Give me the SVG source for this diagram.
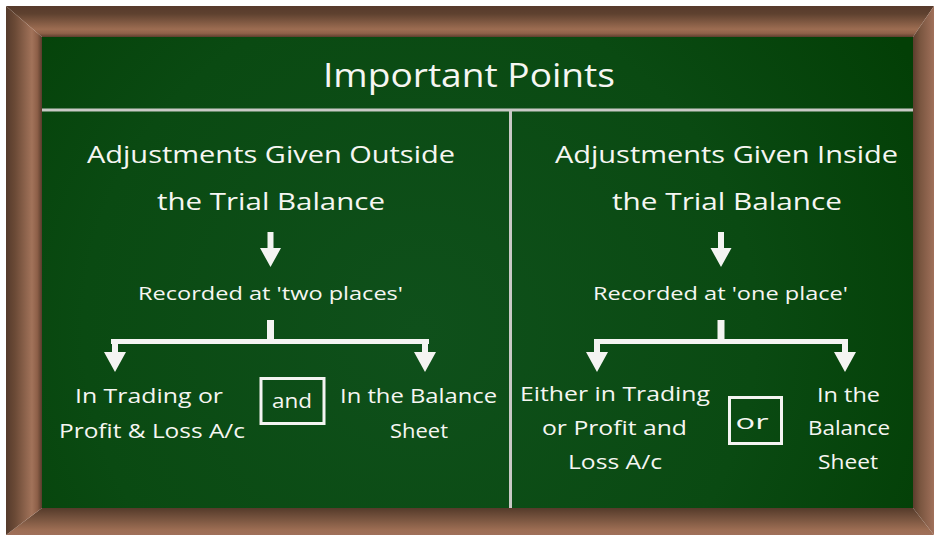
<svg xmlns="http://www.w3.org/2000/svg" width="934" height="535" viewBox="0 0 934 535">
<defs>
<linearGradient id="gTop" x1="0" y1="6" x2="0" y2="37" gradientUnits="userSpaceOnUse">
<stop offset="0" stop-color="#573a2b"/><stop offset="0.25" stop-color="#5e412f"/><stop offset="0.75" stop-color="#9d6d52"/><stop offset="0.88" stop-color="#8f6149"/><stop offset="1" stop-color="#5c3e2d"/>
</linearGradient>
<linearGradient id="gLeft" x1="6" y1="0" x2="42" y2="0" gradientUnits="userSpaceOnUse">
<stop offset="0" stop-color="#553a2b"/><stop offset="0.25" stop-color="#6b4a36"/><stop offset="0.72" stop-color="#a2735a"/><stop offset="0.87" stop-color="#8d5f48"/><stop offset="1" stop-color="#573b2b"/>
</linearGradient>
<linearGradient id="gBottom" x1="0" y1="508" x2="0" y2="535" gradientUnits="userSpaceOnUse">
<stop offset="0" stop-color="#553a2a"/><stop offset="0.3" stop-color="#6f4e3a"/><stop offset="0.8" stop-color="#9c6d53"/><stop offset="1" stop-color="#a0705a"/>
</linearGradient>
<linearGradient id="gRight" x1="913" y1="0" x2="934" y2="0" gradientUnits="userSpaceOnUse">
<stop offset="0" stop-color="#5a3d2c"/><stop offset="0.35" stop-color="#7a5640"/><stop offset="1" stop-color="#a0705a"/>
</linearGradient>
<radialGradient id="gBoard" cx="420" cy="330" r="560" gradientUnits="userSpaceOnUse">
<stop offset="0" stop-color="#0f501b"/><stop offset="0.6" stop-color="#0a4a12"/><stop offset="1" stop-color="#033f06"/>
</radialGradient>
<style>
.t{font-family:"Open Sans","Liberation Sans",sans-serif;fill:#f6f6f2;text-anchor:middle}
.h0{font-size:32px}
.h1{font-size:24px}
.h2{font-size:19px}
.h3{font-size:20px}
.ln{stroke:#c9c9c6;stroke-width:3;fill:none}
.ar{fill:#f4f4f2}
.bx{fill:none;stroke:#f4f4f2;stroke-width:3}
</style>
</defs>
<rect x="0" y="0" width="934" height="535" fill="#ffffff"/>
<g id="frame">
<polygon points="6,6 934,6 913,37 42,37" fill="url(#gTop)"/>
<polygon points="6,535 934,535 913,508 42,508" fill="url(#gBottom)"/>
<polygon points="6,6 42,37 42,508 6,535" fill="url(#gLeft)"/>
<polygon points="934,6 913,37 913,508 934,535" fill="url(#gRight)"/>
</g>
<rect id="board" x="42" y="37" width="871" height="471" fill="url(#gBoard)"/>
<g id="dividers">
<line class="ln" x1="42" y1="110" x2="913" y2="110"/>
<line class="ln" x1="510.5" y1="110" x2="510.5" y2="508"/>
</g>
<g id="title"><text class="t h0" x="469" y="87" textLength="292" lengthAdjust="spacingAndGlyphs">Important Points</text></g>
<g id="left-heading">
<text class="t h1" x="271" y="163" textLength="368" lengthAdjust="spacingAndGlyphs">Adjustments Given Outside</text>
<text class="t h1" x="271" y="210" textLength="228" lengthAdjust="spacingAndGlyphs">the Trial Balance</text>
</g>
<g id="left-recorded"><text class="t h2" x="270.5" y="300" textLength="265" lengthAdjust="spacingAndGlyphs">Recorded at 'two places'</text></g>
<g id="left-trading">
<text class="t h3" x="149" y="403" textLength="148" lengthAdjust="spacingAndGlyphs">In Trading or</text>
<text class="t h3" x="152" y="438" textLength="186" lengthAdjust="spacingAndGlyphs">Profit &amp; Loss A/c</text>
</g>
<g id="left-and">
<rect class="bx" x="261" y="378.5" width="63" height="45"/>
<text class="t h3" x="292" y="408" textLength="40" lengthAdjust="spacingAndGlyphs">and</text>
</g>
<g id="left-balance">
<text class="t h3" x="418.5" y="403" textLength="157" lengthAdjust="spacingAndGlyphs">In the Balance</text>
<text class="t h3" x="419" y="438" textLength="58" lengthAdjust="spacingAndGlyphs">Sheet</text>
</g>
<g id="right-heading">
<text class="t h1" x="726.5" y="163" textLength="343" lengthAdjust="spacingAndGlyphs">Adjustments Given Inside</text>
<text class="t h1" x="727" y="210" textLength="230" lengthAdjust="spacingAndGlyphs">the Trial Balance</text>
</g>
<g id="right-recorded"><text class="t h2" x="720.5" y="300" textLength="255" lengthAdjust="spacingAndGlyphs">Recorded at 'one place'</text></g>
<g id="right-trading">
<text class="t h3" x="615" y="401" textLength="190" lengthAdjust="spacingAndGlyphs">Either in Trading</text>
<text class="t h3" x="614.5" y="435" textLength="145" lengthAdjust="spacingAndGlyphs">or Profit and</text>
<text class="t h3" x="615" y="469" textLength="94" lengthAdjust="spacingAndGlyphs">Loss A/c</text>
</g>
<g id="right-or">
<rect class="bx" x="729.5" y="397.5" width="52" height="46"/>
<text class="t h3" x="752" y="429" textLength="33" lengthAdjust="spacingAndGlyphs">or</text>
</g>
<g id="right-balance">
<text class="t h3" x="848.5" y="402" textLength="63" lengthAdjust="spacingAndGlyphs">In the</text>
<text class="t h3" x="849" y="435" textLength="82" lengthAdjust="spacingAndGlyphs">Balance</text>
<text class="t h3" x="848" y="469" textLength="60" lengthAdjust="spacingAndGlyphs">Sheet</text>
</g>
<g id="connectors">
<polygon class="ar" points="267.5,232 273.5,232 273.5,248 281,248 270.5,267 260,248 267.5,248"/>
<rect class="ar" x="267" y="320" width="7" height="22"/>
<rect class="ar" x="111" y="339" width="318" height="5"/>
<polygon class="ar" points="112,339 118,339 118,352 126,352 115,372 104,352 112,352"/>
<polygon class="ar" points="422,339 428,339 428,352 436,352 425,372 414,352 422,352"/>
<polygon class="ar" points="718,232 724,232 724,248 731.5,248 721,267 710.5,248 718,248"/>
<rect class="ar" x="717.5" y="320" width="7" height="22"/>
<rect class="ar" x="594" y="339" width="254" height="5"/>
<polygon class="ar" points="594,339 600,339 600,352 608,352 597,372 586,352 594,352"/>
<polygon class="ar" points="842,339 848,339 848,352 856,352 845,372 834,352 842,352"/>
</g>
</svg>
